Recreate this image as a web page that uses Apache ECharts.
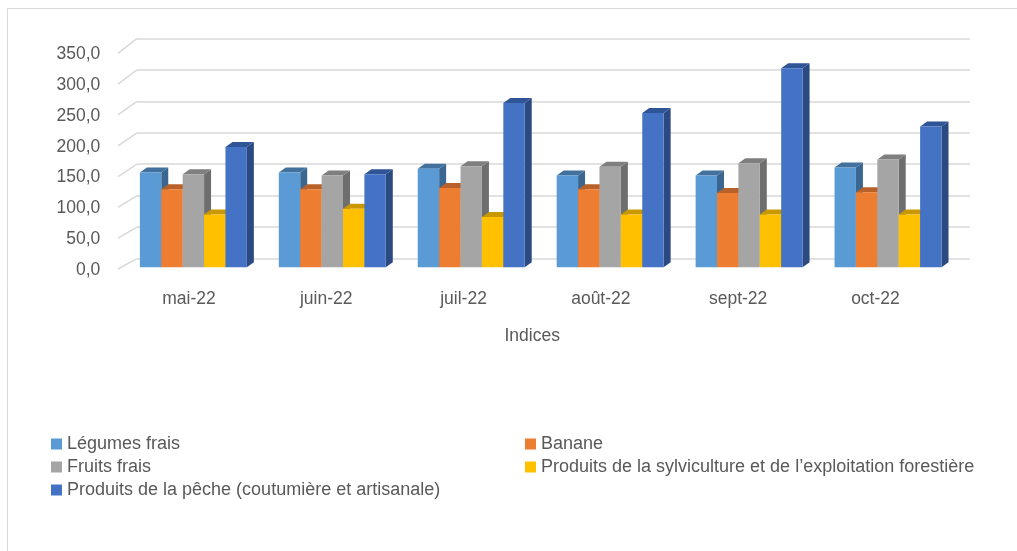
<!DOCTYPE html>
<html>
<head>
<meta charset="utf-8">
<script src="https://cdn.jsdelivr.net/npm/echarts@6/dist/echarts.min.js"></script>
<style>
  html, body {margin: 0; padding: 0; background: #fff;}
  #chart {width: 1017px; height: 551px;}
</style>
</head>
<body>
<div id="chart"></div>
<script>
const months = ['mai-22', 'juin-22', 'juil-22', 'août-22', 'sept-22', 'oct-22']
const yTicks = [0, 50, 100, 150, 200, 250, 300, 350]

const legumesFrais = [153, 153, 159, 148, 148, 161]
const banane = [126, 126, 128, 126, 120, 121]
const fruitsFrais = [150, 148, 163, 162, 168, 174]
const sylviculture = [85, 94.5, 81, 85, 85, 85]
const peche = [194, 150, 265, 249, 321, 227]

const seriesDefs = [
  {name: 'Légumes frais', data: legumesFrais, color: '#5b9bd5', top: '#41719c', side: '#3a6690'},
  {name: 'Banane', data: banane, color: '#ed7d31', top: '#b9612a', side: '#ae5a26'},
  {name: 'Fruits frais', data: fruitsFrais, color: '#a5a5a5', top: '#7f7f7f', side: '#6e6e6e'},
  {name: 'Produits de la sylviculture et de l\u2019exploitation forestière', data: sylviculture, color: '#ffc000', top: '#c99700', side: '#b88a00'},
  {name: 'Produits de la pêche (coutumière et artisanale)', data: peche, color: '#4472c4', top: '#2f5597', side: '#2b4a82'}
]

const textColor = '#595959'
const fontFamily = '"Liberation Sans", Arial, sans-serif'
const gridColor = '#d9d9d9'

// depth of the pseudo 3D columns
const depthX = 7
const depthY = 5

const makeBarSeries = (def, idx) => ({
  name: def.name,
  type: 'custom',
  xAxisIndex: 2,
  yAxisIndex: 2,
  itemStyle: {color: def.color},
  data: def.data.map((v, i) => [i, v]),
  encode: {x: 0, y: 1},
  z: 10,
  renderItem: (params, api) => {
    const cat = api.value(0)
    const val = api.value(1)
    const topPt = api.coord([cat, val])
    const basePt = api.coord([cat, 0])
    const band = api.size([1, 0])[0]
    const bw = band * 0.154
    const x0 = topPt[0] + (idx - 2.5) * bw
    const x1 = x0 + bw
    const yT = topPt[1]
    const yB = basePt[1]
    return {
      type: 'group',
      children: [
        {
          type: 'polygon',
          shape: {points: [[x1, yB], [x1 + depthX, yB - depthY], [x1 + depthX, yT - depthY], [x1, yT]]},
          style: {fill: def.side}
        },
        {
          type: 'polygon',
          shape: {points: [[x0, yT], [x0 + depthX, yT - depthY], [x1 + depthX, yT - depthY], [x1, yT]]},
          style: {fill: def.top}
        },
        {
          type: 'rect',
          shape: {x: x0, y: yT, width: bw, height: yB - yT},
          style: {fill: def.color}
        }
      ]
    }
  }
})

const chart = echarts.init(document.getElementById('chart'))

const legendText = {color: textColor, fontSize: 18, fontFamily}

chart.setOption({
  animation: false,
  backgroundColor: '#fff',
  graphic: [{
    type: 'rect',
    shape: {x: 7.5, y: 8.5, width: 1100, height: 600},
    style: {fill: 'none', stroke: gridColor, lineWidth: 1},
    silent: true
  }],
  grid: [
    // back wall
    {left: 137, right: 47, top: 38.3, bottom: 292.3},
    // front plane, carries the labels
    {left: 120.3, right: 72.9, top: 54.3, bottom: 281},
    // columns
    {left: 123.9, right: 59.5, top: 50.3, bottom: 283.7}
  ],
  xAxis: [
    {gridIndex: 0, type: 'value', min: 0, max: 1, show: false},
    {
      gridIndex: 1,
      type: 'category',
      data: months,
      axisLine: {show: false},
      axisTick: {show: false},
      axisLabel: {color: textColor, fontSize: 17.5, fontFamily, margin: 20},
      name: 'Indices',
      nameLocation: 'middle',
      nameGap: 57,
      nameTextStyle: {color: textColor, fontSize: 17.5, fontFamily, verticalAlign: 'top'}
    },
    {gridIndex: 2, type: 'category', data: months, show: false}
  ],
  yAxis: [
    {
      gridIndex: 0, type: 'value', min: 0, max: 350, interval: 50,
      axisLabel: {show: false}, axisLine: {show: false}, axisTick: {show: false},
      splitLine: {lineStyle: {color: gridColor, width: 1.5}}
    },
    {
      gridIndex: 1, type: 'value', min: 0, max: 350, interval: 50,
      axisLine: {show: false}, axisTick: {show: false}, splitLine: {show: false},
      axisLabel: {
        color: textColor, fontSize: 17.5, fontFamily, margin: 20,
        formatter: (v) => v.toFixed(1).replace('.', ',')
      }
    },
    {gridIndex: 2, type: 'value', min: 0, max: 350, show: false}
  ],
  legend: [
    {
      left: 46, top: 430, orient: 'vertical', itemGap: 5,
      icon: 'rect', itemWidth: 11, itemHeight: 11,
      textStyle: legendText,
      data: [seriesDefs[0].name, seriesDefs[2].name, seriesDefs[4].name]
    },
    {
      left: 520, top: 430, orient: 'vertical', itemGap: 5,
      icon: 'rect', itemWidth: 11, itemHeight: 11,
      textStyle: legendText,
      data: [seriesDefs[1].name, seriesDefs[3].name]
    }
  ],
  series: [
    {
      // left side wall lines joining the labels to the back wall
      type: 'custom',
      xAxisIndex: 0,
      yAxisIndex: 0,
      silent: true,
      data: yTicks.map(v => [0, v]),
      encode: {x: 0, y: 1},
      renderItem: (params, api) => {
        const p = api.coord([0, api.value(1)])
        const fx = p[0] - 19
        const fy = (p[1] + 16.2) / 1.0219
        return {
          type: 'line',
          shape: {x1: fx, y1: fy, x2: p[0], y2: p[1]},
          style: {stroke: gridColor, lineWidth: 1.5}
        }
      }
    },
    ...seriesDefs.map(makeBarSeries)
  ]
})
</script>
</body>
</html>
